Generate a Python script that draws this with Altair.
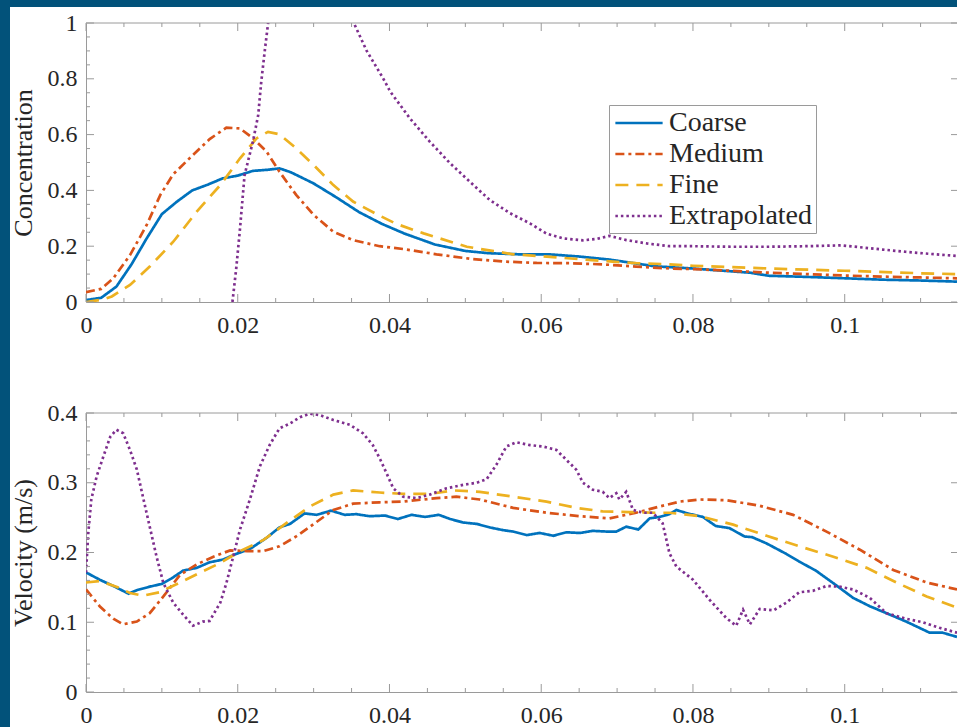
import altair as alt
import pandas as pd

SERIES = ["Coarse", "Medium", "Fine", "Extrapolated"]
COLORS = ["#0072BD", "#D95319", "#EDB120", "#7E2F8E"]
DASHES = [[1, 0], [9, 4, 3, 4], [13, 8], [2.5, 3]]

# ---- Concentration profiles -------------------------------------------
conc_coarse_x = [0, 0.002, 0.004, 0.006, 0.008, 0.010, 0.012, 0.014, 0.016, 0.018, 0.020,
                 0.022, 0.024, 0.0255, 0.027, 0.030, 0.033, 0.036, 0.039, 0.042, 0.046,
                 0.050, 0.053, 0.057, 0.061, 0.065, 0.069, 0.072, 0.075, 0.080, 0.085,
                 0.0875, 0.090, 0.095, 0.100, 0.105, 0.110, 0.1148]
conc_coarse_y = [0.007, 0.015, 0.055, 0.135, 0.228, 0.315, 0.36, 0.40, 0.42, 0.443, 0.453,
                 0.47, 0.474, 0.479, 0.465, 0.425, 0.375, 0.322, 0.28, 0.245, 0.206,
                 0.183, 0.175, 0.171, 0.171, 0.163, 0.152, 0.14, 0.128, 0.12, 0.11,
                 0.105, 0.094, 0.09, 0.085, 0.08, 0.077, 0.073]

conc_medium_x = [0, 0.002, 0.0036, 0.0058, 0.008, 0.0098, 0.0115, 0.0141, 0.0163, 0.0185,
                 0.0203, 0.022, 0.0238, 0.0255, 0.0277, 0.030, 0.0326, 0.0352, 0.0387,
                 0.0418, 0.0462, 0.0506, 0.055, 0.0594, 0.0637, 0.0681, 0.0725, 0.077,
                 0.080, 0.085, 0.090, 0.095, 0.100, 0.105, 0.110, 0.1148]
conc_medium_y = [0.035, 0.047, 0.085, 0.168, 0.276, 0.384, 0.458, 0.527, 0.584, 0.625,
                 0.622, 0.587, 0.539, 0.467, 0.384, 0.312, 0.252, 0.222, 0.2,
                 0.19, 0.171, 0.155, 0.145, 0.14, 0.139, 0.135, 0.127, 0.12,
                 0.118, 0.112, 0.105, 0.1, 0.095, 0.091, 0.088, 0.085]

conc_fine_x = [0, 0.0021, 0.0034, 0.0058, 0.0084, 0.0115, 0.0146, 0.0177, 0.0203, 0.0225,
               0.024, 0.0255, 0.0277, 0.030, 0.0326, 0.0352, 0.0383, 0.0409, 0.0445,
               0.0502, 0.0563, 0.0625, 0.0682, 0.0725, 0.076, 0.080, 0.090, 0.100,
               0.110, 0.1148]
conc_fine_y = [0.0, 0.008, 0.02, 0.061, 0.127, 0.216, 0.324, 0.419, 0.515, 0.587,
               0.61, 0.601, 0.551, 0.491, 0.419, 0.36, 0.315, 0.28, 0.246,
               0.198, 0.171, 0.159, 0.147, 0.139, 0.136, 0.13, 0.12, 0.112,
               0.103, 0.1]

conc_extrap_x = [0.0193, 0.0198, 0.0203, 0.0209, 0.022, 0.0227, 0.0231, 0.0236, 0.024,
                 0.0245, 0.027, 0.030, 0.033, 0.0353, 0.037, 0.0392, 0.0401, 0.0427,
                 0.0453, 0.048, 0.0506, 0.0532, 0.0559, 0.0585, 0.0607, 0.0629, 0.0655,
                 0.0673, 0.069, 0.0712, 0.0739, 0.0769, 0.080, 0.085, 0.090, 0.095,
                 0.0995, 0.1025, 0.105, 0.108, 0.111, 0.1148]
conc_extrap_y = [0.0, 0.12, 0.264, 0.455, 0.575, 0.67, 0.79, 0.909, 0.999,
                 1.06, 1.25, 1.3, 1.2, 1.0, 0.9, 0.8, 0.754, 0.658,
                 0.575, 0.497, 0.431, 0.366, 0.318, 0.282, 0.245, 0.228, 0.221,
                 0.226, 0.237, 0.222, 0.21, 0.2, 0.2, 0.198, 0.198, 0.2,
                 0.203, 0.195, 0.188, 0.18, 0.173, 0.165]

# ---- Velocity profiles --------------------------------------------------
vel_coarse_x = [0, 0.0018, 0.0036, 0.0056, 0.0067, 0.0084, 0.010, 0.0113, 0.0128, 0.0146,
                0.0163, 0.0181, 0.0198, 0.0216, 0.0238, 0.0255, 0.0269, 0.0288, 0.0304,
                0.0323, 0.0341, 0.0356, 0.0374, 0.0394, 0.0411, 0.0429, 0.0447, 0.0465,
                0.048, 0.0497, 0.0515, 0.0532, 0.055, 0.0563, 0.0581, 0.0598, 0.0616,
                0.0633, 0.0651, 0.0668, 0.0686, 0.0699, 0.0712, 0.0728, 0.0743, 0.0756,
                0.0769, 0.0778, 0.0793, 0.0813, 0.083, 0.0848, 0.0868, 0.0878, 0.0897,
                0.0923, 0.094, 0.0962, 0.0985, 0.1011, 0.1033, 0.1055, 0.1081, 0.1112,
                0.1129, 0.1148]
vel_coarse_y = [0.1715, 0.161, 0.152, 0.141, 0.146, 0.151, 0.155, 0.163, 0.174, 0.178,
                0.186, 0.19, 0.198, 0.205, 0.221, 0.236, 0.241, 0.256, 0.254,
                0.26, 0.254, 0.255, 0.252, 0.253, 0.248, 0.254, 0.251, 0.254,
                0.248, 0.243, 0.241, 0.236, 0.232, 0.23, 0.225, 0.228, 0.224,
                0.229, 0.228, 0.231, 0.23, 0.23, 0.237, 0.233, 0.249, 0.251,
                0.255, 0.261, 0.256, 0.251, 0.238, 0.235, 0.223, 0.222, 0.213,
                0.198, 0.187, 0.174, 0.156, 0.135, 0.123, 0.113, 0.101, 0.085,
                0.085, 0.079]

vel_medium_x = [0, 0.0018, 0.0036, 0.0049, 0.0067, 0.0084, 0.0102, 0.0124, 0.0146, 0.0168,
                0.019, 0.0212, 0.0234, 0.0255, 0.0277, 0.0299, 0.0326, 0.0352, 0.0387,
                0.0418, 0.0462, 0.0488, 0.0519, 0.0563, 0.0607, 0.0651, 0.069, 0.0725,
                0.0756, 0.0783, 0.0809, 0.0844, 0.0888, 0.0932, 0.0976, 0.102, 0.1064,
                0.1108, 0.1148]
vel_medium_y = [0.147, 0.123, 0.105, 0.097, 0.101, 0.113, 0.137, 0.168, 0.183, 0.194,
                0.203, 0.202, 0.202, 0.209, 0.223, 0.24, 0.261, 0.27, 0.272,
                0.273, 0.278, 0.28, 0.276, 0.264, 0.257, 0.252, 0.249, 0.257,
                0.266, 0.273, 0.276, 0.275, 0.267, 0.254, 0.23, 0.204, 0.175,
                0.157, 0.147]

vel_fine_x = [0, 0.0018, 0.004, 0.0058, 0.0075, 0.0097, 0.0124, 0.015, 0.0177, 0.0203,
              0.0234, 0.0264, 0.0295, 0.0326, 0.0352, 0.0387, 0.0418, 0.0453, 0.0484,
              0.0519, 0.0563, 0.0607, 0.0646, 0.0681, 0.0716, 0.0751, 0.0769, 0.0809,
              0.0853, 0.0897, 0.094, 0.0985, 0.1029, 0.1072, 0.1108, 0.1148]
vel_fine_y = [0.157, 0.159, 0.151, 0.142, 0.138, 0.143, 0.157, 0.171, 0.185, 0.202,
              0.218, 0.242, 0.266, 0.283, 0.289, 0.286, 0.284, 0.284, 0.289,
              0.287, 0.28, 0.273, 0.264, 0.259, 0.258, 0.257, 0.257, 0.252,
              0.24, 0.224, 0.209, 0.194, 0.178, 0.155, 0.137, 0.121]

vel_extrap_x = [0, 0.0003, 0.0007, 0.0014, 0.0023, 0.0032, 0.004, 0.0049, 0.0058, 0.0067,
                0.0075, 0.0084, 0.0093, 0.0102, 0.0115, 0.0128, 0.0141, 0.0154, 0.0163,
                0.0177, 0.0185, 0.0194, 0.0203, 0.0216, 0.0229, 0.0242, 0.0255, 0.0269,
                0.0282, 0.0295, 0.0308, 0.0326, 0.0348, 0.0365, 0.0378, 0.0388, 0.0396,
                0.0405, 0.0418, 0.0436, 0.0453, 0.0475, 0.0497, 0.0515, 0.0528, 0.0541,
                0.0554, 0.0567, 0.0585, 0.0602, 0.062, 0.0633, 0.0646, 0.0655, 0.0668,
                0.0681, 0.069, 0.0699, 0.0703, 0.0712, 0.0721, 0.0734, 0.0747, 0.076,
                0.0769, 0.0778, 0.08, 0.0822, 0.0844, 0.0857, 0.0866, 0.0875, 0.0888,
                0.0906, 0.0923, 0.094, 0.0958, 0.0976, 0.0993, 0.1011, 0.1033, 0.1055,
                0.1081, 0.1103, 0.1125, 0.1148]
vel_extrap_y = [0.171, 0.228, 0.276, 0.309, 0.338, 0.366, 0.376, 0.371, 0.347, 0.319,
                0.28, 0.237, 0.194, 0.156, 0.128, 0.111, 0.095, 0.101, 0.102,
                0.128, 0.156, 0.194, 0.233, 0.276, 0.323, 0.354, 0.378, 0.385,
                0.394, 0.399, 0.397, 0.39, 0.383, 0.371, 0.354, 0.333, 0.314,
                0.292, 0.28, 0.278, 0.283, 0.292, 0.297, 0.3, 0.305, 0.326,
                0.352, 0.358, 0.354, 0.352, 0.347, 0.333, 0.319, 0.3, 0.29,
                0.287, 0.278, 0.285, 0.276, 0.287, 0.261, 0.257, 0.257, 0.242,
                0.199, 0.18, 0.161, 0.132, 0.106, 0.095, 0.118, 0.097, 0.119,
                0.117, 0.128, 0.143, 0.145, 0.152, 0.151, 0.147, 0.135, 0.113,
                0.105, 0.1, 0.092, 0.085]

# ---- Tick positions -----------------------------------------------------
X_MAJOR = [0, 0.02, 0.04, 0.06, 0.08, 0.1]
X_MINOR = [0.005, 0.01, 0.015, 0.025, 0.03, 0.035, 0.045, 0.05, 0.055, 0.065,
           0.07, 0.075, 0.085, 0.09, 0.095, 0.105, 0.11]
CONC_MAJOR = [0, 0.2, 0.4, 0.6, 0.8, 1]
CONC_MINOR = [0.05, 0.1, 0.15, 0.25, 0.3, 0.35, 0.45, 0.5, 0.55, 0.65, 0.7, 0.75,
              0.85, 0.9, 0.95]
VEL_MAJOR = [0, 0.1, 0.2, 0.3, 0.4]
VEL_MINOR = [0.02, 0.04, 0.06, 0.08, 0.12, 0.14, 0.16, 0.18, 0.22, 0.24, 0.26, 0.28,
             0.32, 0.34, 0.36, 0.38]

W, H = 871, 279
XMAX = 0.1148
FRAME = "#02527A"
AXIS_GREY = "#9a9a9a"
INK = "#262626"
FONT = "'Liberation Serif', 'Times New Roman', Tinos, 'DejaVu Serif', serif"


def long_frame(pairs):
    parts = [pd.DataFrame({"x": xs, "y": ys, "series": name}) for name, xs, ys in pairs]
    return pd.concat(parts, ignore_index=True)


conc_df = long_frame([
    ("Coarse", conc_coarse_x, conc_coarse_y),
    ("Medium", conc_medium_x, conc_medium_y),
    ("Fine", conc_fine_x, conc_fine_y),
    ("Extrapolated", conc_extrap_x, conc_extrap_y),
])
vel_df = long_frame([
    ("Coarse", vel_coarse_x, vel_coarse_y),
    ("Medium", vel_medium_x, vel_medium_y),
    ("Fine", vel_fine_x, vel_fine_y),
    ("Extrapolated", vel_extrap_x, vel_extrap_y),
])


def x_scale():
    return alt.Scale(domain=[0, XMAX], nice=False, zero=False)


def x_axis():
    return alt.Axis(values=X_MAJOR, labelExpr="format(datum.value, '~g')", title=None,
                    ticks=False, grid=False, domainColor=AXIS_GREY,
                    labelFont=FONT, labelFontSize=24, labelColor=INK,
                    labelPadding=23, labelBaseline="middle", labelFlush=False)


def y_axis(values, title):
    return alt.Axis(values=values, labelExpr="format(datum.value, '~g')", title=title,
                    ticks=False, grid=False, domainColor=AXIS_GREY,
                    labelFont=FONT, labelFontSize=24, labelColor=INK,
                    labelPadding=9, labelBaseline="middle",
                    titleFont=FONT, titleFontSize=26, titleFontWeight="normal",
                    titleColor=INK, titleX=-63, titleY=H / 2, titleAngle=270,
                    titleAlign="center", titleBaseline="middle")


def tick_rules(values, channel, yscale, yaxis, side, length):
    # Inward tick marks, placed through the panel's own scales.
    base = alt.Chart(pd.DataFrame({"v": values})).mark_rule(color=AXIS_GREY, strokeWidth=1)
    if channel == "x":
        enc = {"x": alt.X("v:Q", scale=x_scale(), axis=x_axis())}
        if side == "bottom":
            enc.update(y=alt.value(H), y2=alt.value(H - length))
        else:
            enc.update(y=alt.value(0), y2=alt.value(length))
    else:
        enc = {"y": alt.Y("v:Q", scale=yscale, axis=yaxis)}
        if side == "left":
            enc.update(x=alt.value(0), x2=alt.value(length))
        else:
            enc.update(x=alt.value(W), x2=alt.value(W - length))
    return base.encode(**enc)


def panel(df, ydomain, ymajor, yminor, title, legend, with_frame=False):
    ys = alt.Scale(domain=ydomain, nice=False, zero=False)
    yaxis = y_axis(ymajor, title)
    lines = alt.Chart(df).mark_line(clip=True, strokeWidth=2.7).encode(
        x=alt.X("x:Q", scale=x_scale(), axis=x_axis()),
        y=alt.Y("y:Q", scale=ys, axis=yaxis),
        color=alt.Color("series:N", scale=alt.Scale(domain=SERIES, range=COLORS),
                        legend=legend),
        strokeDash=alt.StrokeDash("series:N", scale=alt.Scale(domain=SERIES, range=DASHES),
                                  legend=legend),
    )
    top_edge = alt.Chart(alt.Data(values=[{}])).mark_rule(
        color=AXIS_GREY, strokeWidth=1
    ).encode(x=alt.value(0), x2=alt.value(W), y=alt.value(0))

    layers = [lines]
    if with_frame:
        one = alt.Data(values=[{}])
        layers.append(alt.Chart(one).mark_rect(color=FRAME).encode(
            x=alt.value(-86), x2=alt.value(-76), y=alt.value(-23), y2=alt.value(704)))
        layers.append(alt.Chart(one).mark_rect(color=FRAME).encode(
            x=alt.value(-86), x2=alt.value(W), y=alt.value(-23), y2=alt.value(-16)))
    layers += [
        top_edge,
        tick_rules(X_MAJOR, "x", ys, yaxis, "bottom", 8),
        tick_rules(X_MINOR, "x", ys, yaxis, "bottom", 4),
        tick_rules(X_MAJOR, "x", ys, yaxis, "top", 8),
        tick_rules(X_MINOR, "x", ys, yaxis, "top", 4),
        tick_rules(ymajor, "y", ys, yaxis, "left", 8),
        tick_rules(yminor, "y", ys, yaxis, "left", 4),
        tick_rules(ymajor, "y", ys, yaxis, "right", 6),
    ]
    return alt.layer(*layers).properties(width=W, height=H)


legend = alt.Legend(
    title=None, orient="none", legendX=523, legendY=82,
    symbolType="M-1.75,0H1.75", symbolSize=729, symbolStrokeWidth=2.7,
    symbolOffset=12, labelOffset=15, rowPadding=2, padding=3,
    strokeColor=AXIS_GREY, fillColor="white",
    labelFont=FONT, labelFontSize=28, labelColor=INK,
)

top = panel(conc_df, [0, 1], CONC_MAJOR, CONC_MINOR, "Concentration", legend, with_frame=True)
bottom = panel(vel_df, [0, 0.4], VEL_MAJOR, VEL_MINOR, "Velocity (m/s)", None)

chart = alt.vconcat(top, bottom, spacing=111, bounds="flush").properties(
    padding=0
).resolve_legend(color="independent", strokeDash="independent").configure(
    background="white"
).configure_view(strokeOpacity=0)

chart.save("out.html", embed_options={"renderer": "svg", "actions": False})
